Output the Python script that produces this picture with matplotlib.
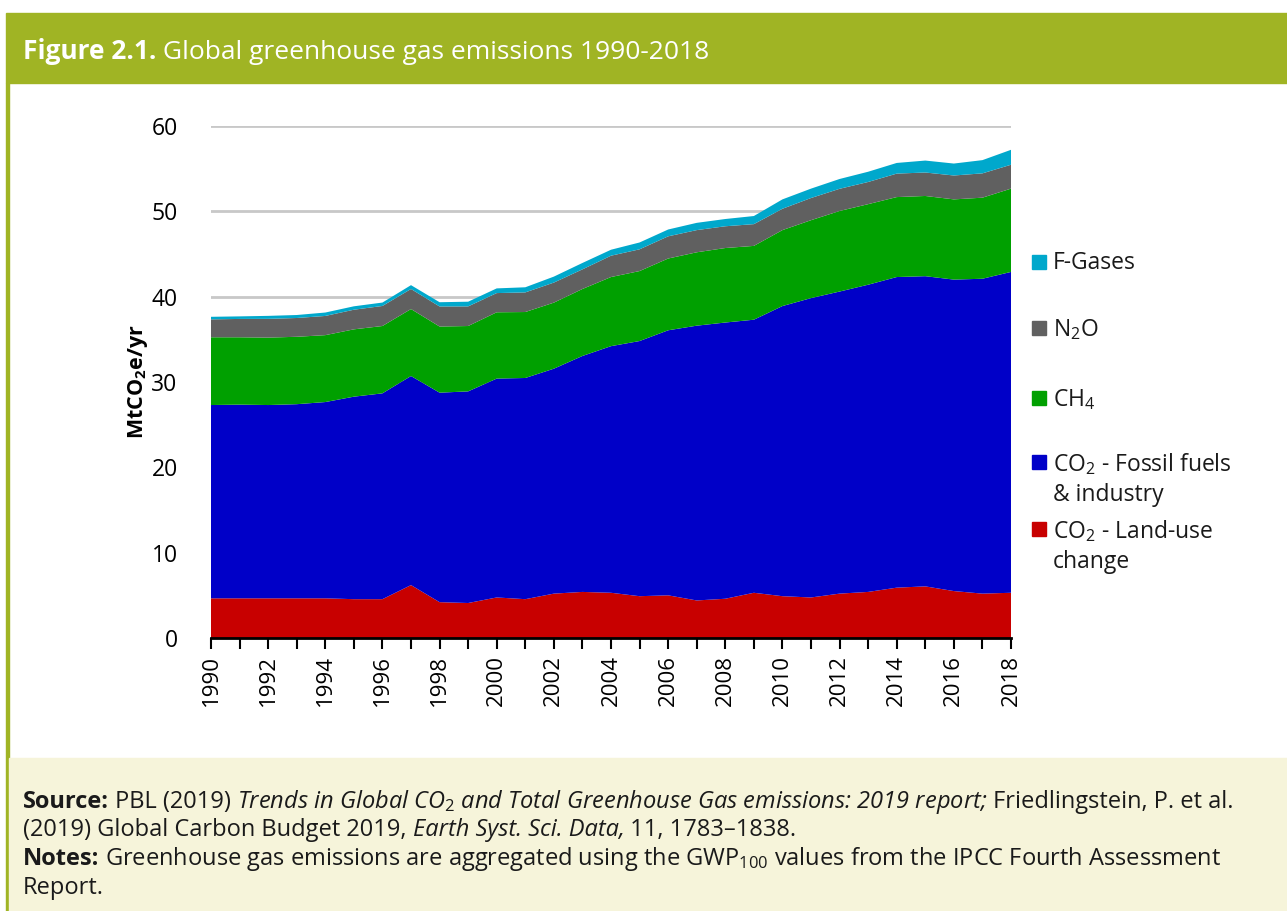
import matplotlib.pyplot as plt
from matplotlib.patches import Rectangle
import numpy as np

plt.rcParams['font.family'] = ['Open Sans', 'DejaVu Sans']
plt.rcParams['mathtext.fontset'] = 'custom'
plt.rcParams['mathtext.rm'] = 'Open Sans'
plt.rcParams['mathtext.it'] = 'Open Sans:italic'
plt.rcParams['mathtext.bf'] = 'Open Sans:bold'

# data (GtCO2e/yr, stacked bottom to top)
years = list(range(1990, 2019))
land_use = [4.65, 4.65, 4.65, 4.65, 4.65, 4.55, 4.55, 6.2, 4.2, 4.1,
            4.75, 4.55, 5.2, 5.4, 5.3, 4.9, 5.0, 4.4, 4.6, 5.3,
            4.9, 4.75, 5.2, 5.4, 5.9, 6.05, 5.5, 5.2, 5.3]
fossil = [22.65, 22.7, 22.65, 22.75, 23.0, 23.73, 24.12, 24.5, 24.55, 24.8,
          25.65, 25.92, 26.36, 27.65, 28.9, 29.9, 31.06, 32.2, 32.37, 32.0,
          34.0, 35.08, 35.4, 36.0, 36.4, 36.35, 36.5, 36.9, 37.6]
ch4 = [7.94, 7.89, 7.9, 7.9, 7.84, 7.89, 7.89, 7.85, 7.75, 7.66,
       7.77, 7.73, 7.74, 7.85, 8.1, 8.2, 8.41, 8.6, 8.73, 8.65,
       8.9, 9.13, 9.44, 9.44, 9.37, 9.4, 9.4, 9.5, 9.76]
n2o = [2.1, 2.15, 2.2, 2.2, 2.25, 2.3, 2.35, 2.35, 2.35, 2.3,
       2.25, 2.3, 2.35, 2.3, 2.5, 2.55, 2.6, 2.6, 2.55, 2.55,
       2.5, 2.6, 2.6, 2.6, 2.75, 2.75, 2.8, 2.85, 2.8]
fgases = [0.3, 0.3, 0.35, 0.35, 0.4, 0.4, 0.4, 0.45, 0.5, 0.55,
          0.55, 0.6, 0.7, 0.75, 0.7, 0.8, 0.8, 0.85, 0.85, 0.95,
          1.1, 1.1, 1.15, 1.2, 1.25, 1.4, 1.4, 1.55, 1.75]

labels = ['CO$_2$ - Land-use\nchange', 'CO$_2$ - Fossil fuels\n& industry',
          'CH$_4$', 'N$_2$O', 'F-Gases']
colors = ['#c80000', '#0000c8', '#00a000', '#606060', '#00a8cc']

fig = plt.figure(figsize=(12.87, 9.11), dpi=100)
W, H = 1287, 911

# frame: header bar, side border, source box
fig.patches.append(Rectangle((6 / W, 1 - 83 / H), 1 - 6 / W, 70 / H,
                             transform=fig.transFigure, color='#a0b424', zorder=0))
fig.patches.append(Rectangle((6 / W, 0), 3 / W, 1 - 83 / H,
                             transform=fig.transFigure, color='#a0b424', zorder=0))
fig.patches.append(Rectangle((9 / W, 0), 1 - 9 / W, 153 / H,
                             transform=fig.transFigure, color='#f6f4da', zorder=0))

r = fig.canvas.get_renderer()


def rich_line(x, y, parts, size, color='#1a1a1a'):
    # draws text pieces one after another, x and y in pixels from top-left
    for s, weight, style in parts:
        t = fig.text(x / W, 1 - y / H, s, fontsize=size, fontweight=weight,
                     style=style, color=color, va='baseline', ha='left')
        x += t.get_window_extent(r).width


rich_line(23, 59, [('Figure 2.1.', 'bold', 'normal'),
                   (' Global greenhouse gas emissions 1990-2018', 'normal', 'normal')],
          19, color='white')

ax = fig.add_axes([211 / W, 1 - 638 / H, 800 / W, 512 / H])
ax.stackplot(years, land_use, fossil, ch4, n2o, fgases, colors=colors, linewidth=0)
ax.set_xlim(1990, 2018)
ax.set_ylim(0, 60)
ax.set_yticks(range(0, 61, 10))
ax.set_xticks(range(1990, 2019, 2))
ax.set_xticks(range(1990, 2019), minor=True)
ax.tick_params(axis='x', which='both', direction='out', length=8, width=1.5,
               color='black', labelrotation=90, labelsize=16, pad=4)
ax.tick_params(axis='y', length=0, labelsize=16.5, pad=24)
ax.grid(axis='y', color='#c8c8c8', linewidth=2)
ax.set_axisbelow(True)
for s in ['top', 'right', 'left']:
    ax.spines[s].set_visible(False)
ax.spines['bottom'].set_linewidth(2)
ax.set_ylabel(r'MtCO$_\mathbf{2}$e/yr', fontsize=15.5, fontweight='bold', labelpad=1)

# legend, placed by hand to follow the reference spacing
leg_y = [529, 462, 398, 328, 262]
for lab, c, yy in zip(labels, colors, leg_y):
    fig.patches.append(Rectangle((1032 / W, 1 - (yy + 7) / H), 14 / W, 14 / H,
                                 transform=fig.transFigure, color=c))
    fig.text(1053 / W, 1 - (yy - 11) / H, lab, fontsize=16.5, va='top', ha='left',
             color='#1a1a1a', linespacing=1.35)

fs = 17
rich_line(23, 808, [('Source:', 'bold', 'normal'), (' PBL (2019) ', 'normal', 'normal'),
                    ('Trends in Global CO$_2$ and Total Greenhouse Gas emissions: 2019 report;',
                     'normal', 'italic'),
                    (' Friedlingstein, P. et al.', 'normal', 'normal')], fs)
rich_line(23, 836, [('(2019) Global Carbon Budget 2019, ', 'normal', 'normal'),
                    ('Earth Syst. Sci. Data,', 'normal', 'italic'),
                    (' 11, 1783–1838.', 'normal', 'normal')], fs)
rich_line(23, 865, [('Notes:', 'bold', 'normal'),
                    (' Greenhouse gas emissions are aggregated using the GWP$_{100}$ values from the IPCC Fourth Assessment',
                     'normal', 'normal')], fs)
rich_line(23, 894, [('Report.', 'normal', 'normal')], fs)

fig.savefig('out.png', dpi=100)
